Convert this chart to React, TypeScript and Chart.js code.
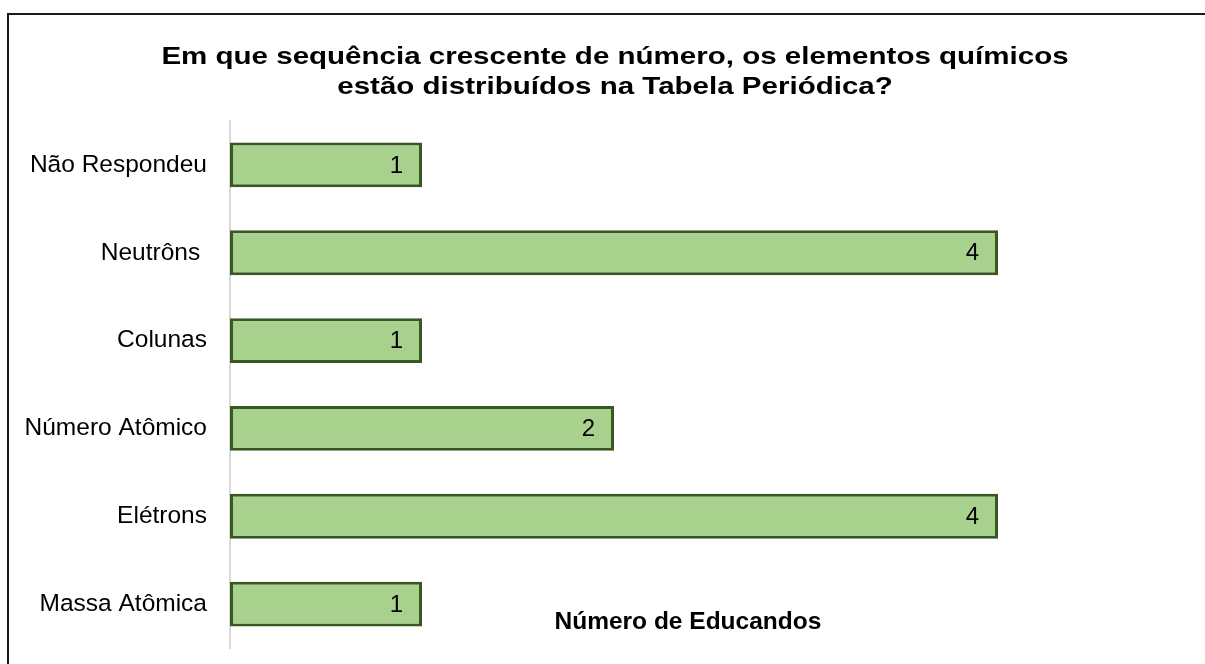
import React, { useEffect, useRef } from "react";
import { Chart, registerables } from "chart.js";

Chart.register(...registerables);

const titleLines = [
  "Em que sequência crescente de número, os elementos químicos",
  "estão distribuídos na Tabela Periódica?",
];
const categories = [
  "Não Respondeu",
  "Neutrôns ",
  "Colunas",
  "Número Atômico",
  "Elétrons",
  "Massa Atômica",
];
const values = [1, 4, 1, 2, 4, 1];
const axisTitle = "Número de Educandos";

const FONT = "'Liberation Sans', Arial, Helvetica, sans-serif";

const overlayPlugin = {
  id: "overlay",
  afterDatasetsDraw(chart: any) {
    const ctx = chart.ctx;
    const area = chart.chartArea;
    ctx.save();
    // data labels
    const meta = chart.getDatasetMeta(0);
    ctx.font = `24px ${FONT}`;
    ctx.fillStyle = "#000";
    ctx.textAlign = "right";
    ctx.textBaseline = "middle";
    meta.data.forEach((bar: any, i: number) => {
      ctx.fillText(String(values[i]), bar.x - 19, bar.y + 1);
    });
    // title (horizontally stretched like the original)
    ctx.font = `bold 24px ${FONT}`;
    ctx.textAlign = "center";
    ctx.textBaseline = "alphabetic";
    const baselines = [64, 94];
    titleLines.forEach((line, i) => {
      ctx.save();
      ctx.translate(615, baselines[i]);
      ctx.scale(1.23, 1);
      ctx.fillText(line, 0, 0);
      ctx.restore();
    });
    // axis title
    ctx.font = `bold 24.5px ${FONT}`;
    ctx.textBaseline = "middle";
    const ax = area.left + (area.right - area.left) * 0.477;
    ctx.fillText(axisTitle, ax, 622);
    ctx.restore();
  },
};

export default function App() {
  const ref = useRef<HTMLCanvasElement | null>(null);
  useEffect(() => {
    if (!ref.current) return;
    const chart = new Chart(ref.current, {
      type: "bar",
      data: {
        labels: categories,
        datasets: [
          {
            data: values,
            backgroundColor: "#A9D18E",
            borderColor: "#385723",
            borderWidth: 3,
            borderSkipped: false,
            barPercentage: 0.51,
            categoryPercentage: 1,
          },
        ],
      },
      options: {
        animation: false,
        responsive: false,
        indexAxis: "y",
        layout: { padding: { top: 121, bottom: 16, left: 0, right: 15 } },
        plugins: {
          legend: { display: false },
          title: { display: false },
          tooltip: { enabled: false },
        },
        scales: {
          x: { display: false, min: 0, max: 5 },
          y: {
            afterFit: (scale: any) => {
              scale.width = 230;
              scale.paddingTop = 0;
              scale.paddingBottom = 0;
            },
            grid: { display: false, drawTicks: false },
            border: { display: true, color: "#D9D9DE", width: 2 },
            ticks: {
              padding: 23,
              color: "#000",
              font: { family: FONT, size: 24.5 },
            },
          },
        },
      },
      plugins: [overlayPlugin],
    });
    return () => chart.destroy();
  }, []);
  return (
    <div
      style={{
        position: "fixed",
        left: 0,
        top: 0,
        width: 1205,
        height: 664,
        overflow: "hidden",
        background: "#fff",
      }}
    >
      <div
        style={{
          position: "absolute",
          left: 7,
          top: 13,
          width: 1400,
          height: 900,
          borderTop: "2px solid #1a1a1a",
          borderLeft: "2px solid #1a1a1a",
        }}
      />
      <canvas
        ref={ref}
        width={1205}
        height={664}
        style={{ position: "absolute", left: 0, top: 0, width: 1205, height: 664 }}
      />
    </div>
  );
}
